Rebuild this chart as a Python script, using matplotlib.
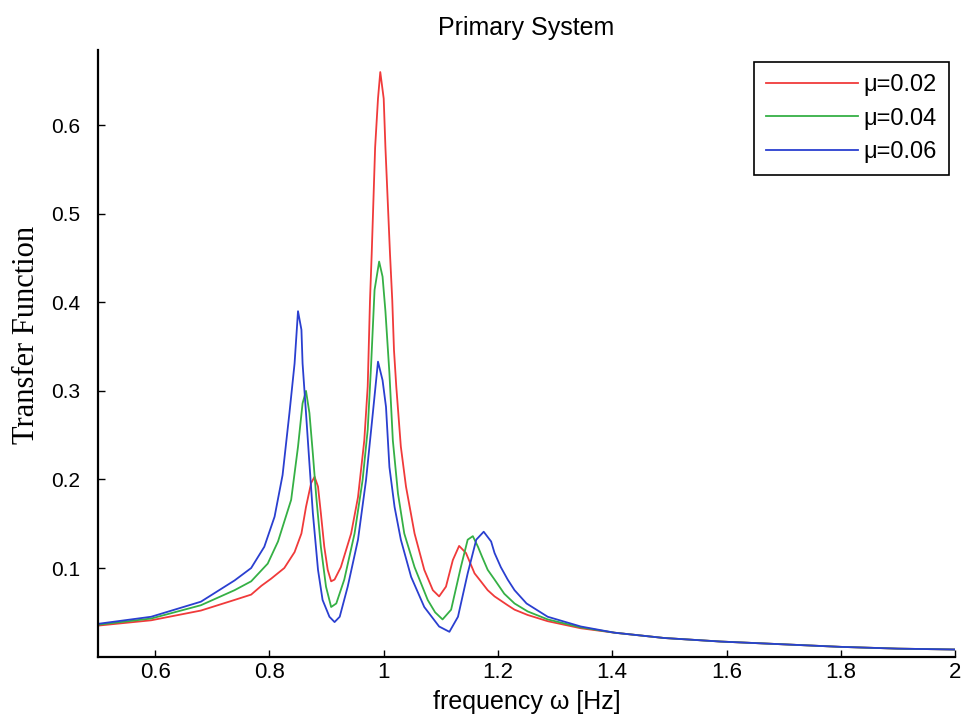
import matplotlib
matplotlib.use('Agg')
import matplotlib.pyplot as plt

# frequency / transfer function values
freq_r = [0.5, 0.593, 0.68, 0.739, 0.768, 0.786, 0.803, 0.826, 0.844, 0.856, 0.864, 0.873, 0.879,
          0.885, 0.890, 0.896, 0.902, 0.908, 0.914, 0.925, 0.943, 0.955, 0.966, 0.972, 0.976,
          0.979, 0.982, 0.985, 0.990, 0.994, 1.000, 1.003, 1.007, 1.011, 1.015, 1.018, 1.022,
          1.030, 1.039, 1.054, 1.071, 1.086, 1.097, 1.109, 1.121, 1.132, 1.144, 1.159, 1.170,
          1.182, 1.194, 1.217, 1.229, 1.252, 1.287, 1.345, 1.404, 1.491, 1.590, 1.695, 1.80,
          1.90, 2.0]
tf_r = [0.035, 0.041, 0.052, 0.064, 0.070, 0.080, 0.088, 0.100, 0.118, 0.139, 0.169, 0.196, 0.203,
        0.192, 0.162, 0.124, 0.098, 0.085, 0.087, 0.101, 0.139, 0.180, 0.244, 0.305, 0.402,
        0.455, 0.515, 0.575, 0.630, 0.660, 0.630, 0.575, 0.515, 0.455, 0.402, 0.346, 0.305,
        0.237, 0.192, 0.139, 0.098, 0.075, 0.068, 0.079, 0.109, 0.125, 0.117, 0.094, 0.085,
        0.075, 0.068, 0.058, 0.053, 0.047, 0.040, 0.032, 0.027, 0.021, 0.017, 0.014, 0.011,
        0.009, 0.008]

freq_g = [0.5, 0.593, 0.68, 0.739, 0.768, 0.797, 0.815, 0.838, 0.850, 0.858, 0.864, 0.870, 0.876,
          0.882, 0.890, 0.899, 0.908, 0.917, 0.931, 0.949, 0.963, 0.972, 0.978, 0.984, 0.992,
          0.998, 1.003, 1.010, 1.016, 1.025, 1.036, 1.054, 1.077, 1.090, 1.103, 1.118, 1.135,
          1.147, 1.156, 1.165, 1.172, 1.182, 1.194, 1.211, 1.229, 1.252, 1.287, 1.345, 1.404,
          1.491, 1.590, 1.695, 1.80, 1.90, 2.0]
tf_g = [0.036, 0.043, 0.058, 0.075, 0.085, 0.105, 0.130, 0.177, 0.237, 0.286, 0.300, 0.275, 0.229,
        0.180, 0.124, 0.079, 0.056, 0.060, 0.087, 0.139, 0.199, 0.256, 0.330, 0.414, 0.446,
        0.429, 0.390, 0.320, 0.244, 0.184, 0.139, 0.101, 0.064, 0.050, 0.042, 0.053, 0.101,
        0.132, 0.136, 0.124, 0.113, 0.098, 0.087, 0.071, 0.060, 0.051, 0.042, 0.033, 0.027,
        0.021, 0.017, 0.014, 0.011, 0.009, 0.008]

freq_b = [0.5, 0.593, 0.68, 0.739, 0.768, 0.791, 0.809, 0.823, 0.835, 0.844, 0.850, 0.856, 0.858,
          0.864, 0.870, 0.876, 0.885, 0.893, 0.905, 0.914, 0.923, 0.937, 0.955, 0.969, 0.981,
          0.990, 0.998, 1.004, 1.010, 1.019, 1.030, 1.048, 1.071, 1.097, 1.115, 1.130, 1.147,
          1.162, 1.175, 1.188, 1.194, 1.205, 1.217, 1.229, 1.250, 1.287, 1.345, 1.404, 1.491,
          1.590, 1.695, 1.80, 1.90, 2.0]
tf_b = [0.037, 0.045, 0.062, 0.086, 0.100, 0.124, 0.158, 0.205, 0.275, 0.331, 0.390, 0.369, 0.331,
        0.275, 0.218, 0.162, 0.098, 0.064, 0.045, 0.039, 0.045, 0.079, 0.132, 0.199, 0.275,
        0.333, 0.312, 0.282, 0.214, 0.169, 0.132, 0.090, 0.056, 0.034, 0.028, 0.045, 0.094,
        0.132, 0.141, 0.130, 0.117, 0.101, 0.087, 0.075, 0.060, 0.045, 0.034, 0.027, 0.021,
        0.017, 0.014, 0.011, 0.009, 0.008]

labels = ['\u03bc=0.02', '\u03bc=0.04', '\u03bc=0.06']
xticks = [0.6, 0.8, 1.0, 1.2, 1.4, 1.6, 1.8, 2.0]
xticklabels = ['0.6', '0.8', '1', '1.2', '1.4', '1.6', '1.8', '2']
yticks = [0.1, 0.2, 0.3, 0.4, 0.5, 0.6]
yticklabels = ['0.1', '0.2', '0.3', '0.4', '0.5', '0.6']

plt.rcParams['font.family'] = ['Liberation Sans', 'DejaVu Sans']

fig = plt.figure(figsize=(9.64, 7.18), dpi=100)
ax = fig.add_axes([0.1017, 0.0855, 0.889, 0.845])

ax.plot(freq_r, tf_r, color='#f03a3a', lw=1.3, label=labels[0])
ax.plot(freq_g, tf_g, color='#35b045', lw=1.3, label=labels[1])
ax.plot(freq_b, tf_b, color='#2a3fd0', lw=1.3, label=labels[2])

ax.set_xlim(0.5, 2.0)
ax.set_ylim(0, 0.685)
ax.set_xticks(xticks)
ax.set_xticklabels(xticklabels, fontsize=16)
ax.set_yticks(yticks)
ax.set_yticklabels(yticklabels, fontsize=15)
ax.tick_params(direction='in', length=5, width=1)
ax.tick_params(axis='x', pad=4)
ax.tick_params(axis='y', pad=13)

# only left and bottom axis lines, like the original
ax.spines['top'].set_visible(False)
ax.spines['right'].set_visible(False)
ax.spines['left'].set_linewidth(1.6)
ax.spines['bottom'].set_linewidth(1.6)

ax.set_title('Primary System', fontsize=18, pad=11)
ax.set_xlabel('frequency \u03c9 [Hz]', fontsize=18, labelpad=5)
ax.set_ylabel('Transfer Function', fontsize=22, family='Liberation Serif')
ax.yaxis.set_label_coords(-0.066, 0.53)

leg = ax.legend(loc='upper right', bbox_to_anchor=(0.993, 0.98), borderaxespad=0,
                fontsize=17, handlelength=3.9, handletextpad=0.25, labelspacing=0.5,
                fancybox=False, framealpha=1, edgecolor='black', borderpad=0.5)
leg.get_frame().set_linewidth(1.2)

plt.savefig('out.png', dpi=100)
